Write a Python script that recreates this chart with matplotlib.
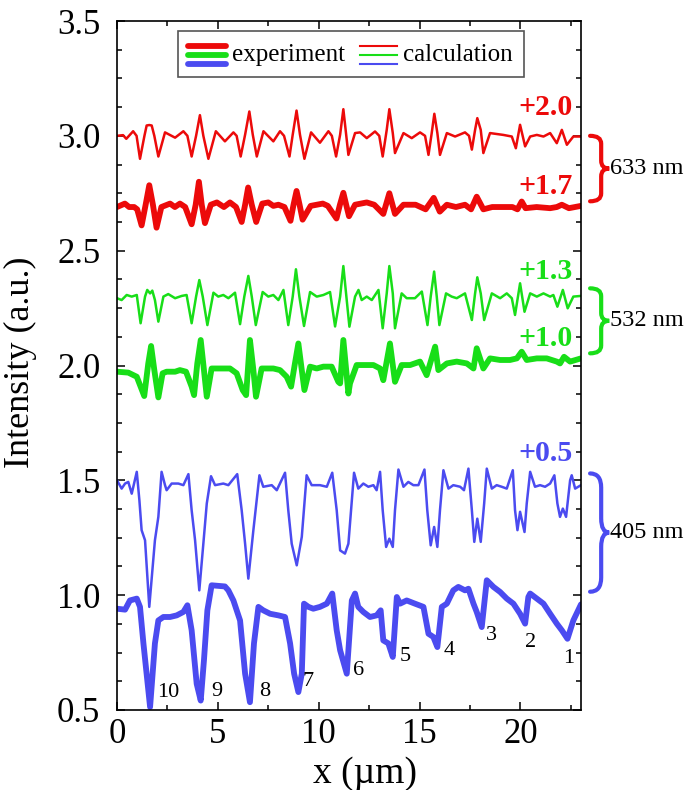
import matplotlib
matplotlib.use("Agg")
import matplotlib.pyplot as plt
from matplotlib.path import Path
from matplotlib.patches import PathPatch, Rectangle
from matplotlib.lines import Line2D
from matplotlib.ticker import MultipleLocator

plt.rcParams['font.family'] = ['Liberation Serif', 'DejaVu Serif']

# ---- data (x in um, intensity in a.u.) ----
red_calc_x = [0.0, 0.3, 0.46, 0.8, 0.97, 1.14, 1.36, 1.47, 1.6, 1.72, 1.85, 2.05, 2.38, 2.88, 3.29, 3.49,
              3.70, 3.92, 4.11, 4.28, 4.53, 4.9, 5.35, 5.77, 5.93, 6.13, 6.35, 6.56, 6.73, 6.93, 7.26,
              7.75, 8.08, 8.28, 8.55, 8.71, 8.9, 9.07, 9.29, 9.62, 10.06, 10.48, 10.65, 10.86, 11.06,
              11.22, 11.47, 11.8, 12.05, 12.38, 12.79, 13.0, 13.17, 13.37, 13.5, 13.67, 13.78, 14.2,
              14.61, 15.02, 15.27, 15.44, 15.6, 15.73, 15.88, 16.01, 16.35, 16.76, 17.25, 17.45, 17.59,
              17.75, 17.86, 18.03, 18.16, 18.49, 19.15, 19.57, 19.77, 19.98, 20.23, 20.48, 20.81, 21.14,
              21.47, 21.8, 22.05, 22.3, 22.62, 23.0]
red_calc_y = [3.0, 3.003, 2.987, 3.02, 3.0, 2.90, 3.0, 3.045, 3.047, 3.045, 3.0, 2.91, 3.015, 2.992, 3.02, 3.0,
              2.91, 3.0, 3.09, 3.0, 2.90, 3.02, 2.976, 3.015, 3.0, 2.91, 3.005, 3.106, 3.005, 2.91, 3.02,
              2.976, 3.02, 3.0, 2.91, 3.005, 3.11, 3.005, 2.90, 3.015, 2.97, 3.02, 3.0, 2.91, 3.005,
              3.116, 2.917, 3.012, 3.015, 2.99, 3.019, 3.0, 2.91, 3.026, 3.116, 3.012, 2.925, 3.012,
              2.99, 3.015, 3.0, 2.917, 3.012, 3.096, 3.012, 2.917, 3.012, 2.997, 3.015, 3.0, 2.94,
              3.026, 3.077, 3.026, 2.925, 3.012, 3.004, 2.997, 2.946, 3.048, 2.954, 2.997, 3.004, 2.997,
              3.012, 2.968, 3.026, 2.961, 2.997, 2.997]

red_exp_x = [0.0, 0.39, 0.6, 0.85, 1.0, 1.22, 1.42, 1.6, 1.78, 1.96, 2.2, 2.63, 2.87, 3.12, 3.38, 3.70,
             3.9, 4.06, 4.2, 4.36, 4.65, 4.95, 5.3, 5.6, 5.9, 6.18, 6.35, 6.5, 6.68, 6.9, 7.2, 7.5, 7.75,
             8.0, 8.3, 8.6, 8.75, 8.9, 9.05, 9.2, 9.6, 9.9, 10.2, 10.45, 10.88, 11.05, 11.22, 11.36,
             11.5, 11.8, 12.38, 12.75, 13.2, 13.5, 13.78, 14.2, 14.8, 15.3, 15.7, 16.0, 16.35, 16.8,
             17.25, 17.55, 17.83, 18.16, 18.6, 19.15, 19.6, 19.85, 20.06, 20.25, 20.8, 21.47, 21.8,
             22.05, 22.4, 23.0]
red_exp_y = [2.69, 2.705, 2.69, 2.69, 2.68, 2.61, 2.70, 2.785, 2.70, 2.60, 2.69, 2.705, 2.69, 2.705, 2.69,
             2.615, 2.70, 2.80, 2.70, 2.62, 2.70, 2.71, 2.69, 2.71, 2.69, 2.625, 2.70, 2.775, 2.70, 2.625,
             2.705, 2.71, 2.695, 2.70, 2.69, 2.63, 2.70, 2.76, 2.70, 2.635, 2.695, 2.70, 2.705, 2.695,
             2.64, 2.70, 2.752, 2.70, 2.65, 2.70, 2.71, 2.70, 2.66, 2.75, 2.66, 2.70, 2.70, 2.68, 2.73,
             2.67, 2.70, 2.69, 2.70, 2.68, 2.735, 2.68, 2.69, 2.69, 2.69, 2.68, 2.714, 2.685, 2.69,
             2.685, 2.69, 2.70, 2.685, 2.695]

green_calc_x = [0.0, 0.23, 0.48, 0.73, 0.98, 1.17, 1.39, 1.5, 1.64, 1.75, 1.88, 2.05, 2.3, 2.54, 2.88, 3.21,
                3.45, 3.7, 3.92, 4.08, 4.25, 4.48, 4.78, 5.02, 5.27, 5.52, 5.85, 6.1, 6.31, 6.51, 6.68,
                6.88, 7.22, 7.5, 7.75, 8.0, 8.25, 8.49, 8.71, 8.87, 9.04, 9.27, 9.57, 9.9, 10.23, 10.56,
                10.81, 11.06, 11.22, 11.37, 11.52, 11.8, 11.97, 12.13, 12.38, 12.63, 12.96, 13.17, 13.37,
                13.5, 13.67, 13.78, 14.11, 14.36, 14.77, 15.11, 15.39, 15.55, 15.72, 15.85, 15.98, 16.31,
                16.59, 16.84, 17.25, 17.59, 17.75, 17.86, 18.03, 18.2, 18.58, 18.99, 19.32, 19.57, 19.73,
                19.98, 20.2, 20.48, 20.81, 21.14, 21.47, 21.63, 21.83, 22.1, 22.34, 22.62, 23.0]
green_calc_y = [2.293, 2.285, 2.307, 2.30, 2.307, 2.184, 2.30, 2.329, 2.314, 2.326, 2.285, 2.191, 2.30, 2.311,
                2.293, 2.303, 2.307, 2.184, 2.30, 2.372, 2.30, 2.176, 2.317, 2.30, 2.307, 2.293, 2.317,
                2.18, 2.30, 2.39, 2.30, 2.176, 2.32, 2.30, 2.307, 2.285, 2.329, 2.176, 2.30, 2.419, 2.30,
                2.172, 2.32, 2.30, 2.307, 2.32, 2.17, 2.30, 2.433, 2.30, 2.169, 2.30, 2.329, 2.285, 2.30,
                2.285, 2.329, 2.162, 2.314, 2.433, 2.314, 2.162, 2.314, 2.293, 2.293, 2.322, 2.176, 2.30,
                2.409, 2.30, 2.176, 2.314, 2.30, 2.293, 2.314, 2.198, 2.314, 2.384, 2.314, 2.198, 2.314,
                2.293, 2.314, 2.293, 2.22, 2.358, 2.234, 2.314, 2.30, 2.314, 2.30, 2.307, 2.256, 2.329,
                2.249, 2.30, 2.303]

green_exp_x = [0.0, 0.56, 0.98, 1.17, 1.35, 1.55, 1.69, 1.85, 2.05, 2.26, 2.46, 2.88, 3.12, 3.42, 3.7, 3.82,
               3.98, 4.15, 4.31, 4.45, 4.69, 4.95, 5.27, 5.6, 5.93, 6.23, 6.4, 6.59, 6.76, 6.89, 7.17,
               7.42, 7.75, 8.08, 8.41, 8.63, 8.82, 8.99, 9.16, 9.29, 9.57, 9.9, 10.23, 10.64, 10.97, 11.06,
               11.22, 11.47, 11.55, 11.88, 12.21, 12.71, 13.04, 13.2, 13.53, 13.78, 14.11, 14.53, 15.02,
               15.35, 15.77, 15.93, 16.35, 16.84, 17.34, 17.67, 17.83, 18.16, 18.49, 18.99, 19.48, 19.82,
               20.06, 20.31, 20.81, 21.3, 21.8, 21.96, 22.16, 22.46, 23.0]
green_exp_y = [1.973, 1.969, 1.951, 1.908, 1.867, 2.009, 2.085, 1.98, 1.861, 1.966, 1.973, 1.973, 1.98, 1.973,
               1.908, 1.871, 2.009, 2.111, 1.98, 1.864, 1.987, 1.987, 1.987, 1.987, 1.966, 1.893, 1.871,
               2.111, 1.98, 1.864, 1.987, 1.987, 1.987, 1.98, 1.951, 1.908, 2.009, 2.096, 1.98, 1.893,
               1.995, 1.987, 1.995, 1.995, 1.929, 1.922, 2.111, 1.878, 1.922, 2.002, 2.002, 2.002, 1.987,
               1.936, 2.096, 1.929, 2.002, 2.002, 2.017, 1.958, 2.082, 1.98, 2.009, 2.017, 2.009, 1.987,
               2.075, 1.987, 2.031, 2.024, 2.024, 2.031, 2.06, 2.024, 2.031, 2.031, 2.017, 2.009, 2.038,
               2.017, 2.031]

blue_calc_x = [0.0, 0.23, 0.4, 0.56, 0.73, 0.98, 1.11, 1.22, 1.39, 1.6, 1.88, 2.05, 2.21, 2.38, 2.46, 2.71,
               3.04, 3.29, 3.54, 3.7, 3.87, 4.08, 4.28, 4.45, 4.66, 4.86, 5.27, 5.52, 5.96, 6.18, 6.35,
               6.51, 6.76, 7.06, 7.25, 7.67, 7.92, 8.33, 8.49, 8.66, 8.91, 9.16, 9.4, 9.65, 10.06, 10.4,
               10.67, 10.89, 11.06, 11.3, 11.47, 11.75, 11.96, 12.21, 12.46, 12.71, 12.87, 13.04, 13.17,
               13.34, 13.5, 13.67, 13.78, 13.95, 14.2, 14.44, 14.69, 14.94, 15.24, 15.38, 15.55, 15.72,
               15.88, 16.01, 16.18, 16.43, 16.67, 17.01, 17.2, 17.42, 17.59, 17.71, 17.86, 18.03, 18.2,
               18.33, 18.58, 18.82, 19.07, 19.32, 19.62, 19.73, 19.85, 19.98, 20.2, 20.31, 20.48, 20.72,
               20.97, 21.22, 21.47, 21.68, 21.83, 21.96, 22.1, 22.26, 22.46, 22.54, 22.71, 23.0]
blue_calc_y = [1.50, 1.464, 1.486, 1.493, 1.442, 1.537, 1.413, 1.283, 1.239, 0.949, 1.239, 1.341, 1.537,
               1.479, 1.457, 1.486, 1.486, 1.479, 1.527, 1.37, 1.239, 1.021, 1.224, 1.399, 1.518, 1.479,
               1.486, 1.479, 1.527, 1.37, 1.224, 1.072, 1.283, 1.522, 1.472, 1.479, 1.457, 1.533, 1.37,
               1.224, 1.13, 1.254, 1.522, 1.479, 1.479, 1.472, 1.533, 1.37, 1.195, 1.181, 1.224, 1.533,
               1.464, 1.486, 1.472, 1.479, 1.457, 1.537, 1.37, 1.21, 1.246, 1.21, 1.37, 1.547, 1.472,
               1.493, 1.479, 1.479, 1.547, 1.37, 1.217, 1.297, 1.21, 1.37, 1.544, 1.464, 1.479, 1.472,
               1.457, 1.551, 1.37, 1.232, 1.333, 1.232, 1.399, 1.551, 1.464, 1.479, 1.472, 1.464, 1.544,
               1.37, 1.283, 1.363, 1.275, 1.399, 1.537, 1.472, 1.479, 1.472, 1.486, 1.522, 1.399, 1.341,
               1.377, 1.341, 1.50, 1.522, 1.464, 1.479]

blue_exp_x = [0.0, 0.4, 0.64, 0.98, 1.14, 1.31, 1.64, 1.88, 2.05, 2.3, 2.63, 2.96, 3.29, 3.49, 3.7, 3.95,
              4.15, 4.31, 4.48, 4.69, 5.35, 5.52, 5.77, 6.1, 6.35, 6.59, 6.79, 7.01, 7.25, 7.59, 8.0, 8.33,
              8.58, 8.78, 8.99, 9.16, 9.27, 9.49, 9.73, 10.06, 10.4, 10.67, 10.89, 11.06, 11.39, 11.64,
              11.8, 11.96, 12.21, 12.54, 12.87, 13.07, 13.2, 13.45, 13.67, 13.87, 14.03, 14.36, 14.77,
              15.19, 15.44, 15.68, 15.88, 16.1, 16.35, 16.67, 16.92, 17.25, 17.42, 17.67, 17.83, 18.08,
              18.33, 18.66, 18.99, 19.32, 19.65, 19.98, 20.23, 20.39, 20.48, 20.81, 21.14, 21.47, 21.8,
              22.05, 22.33, 22.62, 23.0]
blue_exp_y = [0.941, 0.937, 0.977, 0.985, 0.949, 0.79, 0.513, 0.79, 0.89, 0.905, 0.905, 0.912, 0.927, 0.956,
              0.847, 0.614, 0.541, 0.716, 0.934, 1.043, 1.038, 1.021, 0.977, 0.89, 0.658, 0.534, 0.79,
              0.949, 0.934, 0.919, 0.912, 0.905, 0.79, 0.658, 0.578, 0.658, 0.963, 0.949, 0.941, 0.949,
              0.963, 1.007, 0.847, 0.76, 0.658, 0.977, 1.007, 0.949, 0.927, 0.905, 0.912, 0.934, 0.803,
              0.79, 0.731, 0.992, 0.963, 0.977, 0.963, 0.949, 0.832, 0.818, 0.774, 0.949, 0.963, 1.021,
              1.036, 1.021, 1.028, 0.963, 0.927, 0.861, 1.065, 1.036, 1.014, 0.985, 0.963, 0.919, 0.876,
              0.992, 1.007, 0.985, 0.963, 0.919, 0.876, 0.847, 0.81, 0.89, 0.96]

offsets = ['+2.0', '+1.7', '+1.3', '+1.0', '+0.5']
offset_y = [3.124, 2.78, 2.409, 2.118, 1.617]
wavelengths = ['633 nm', '532 nm', '405 nm']
brace_top = [3.0, 2.336, 1.53]
brace_bot = [2.715, 2.053, 1.015]

dip_labels = ['10', '9', '8', '7', '6', '5', '4', '3', '2', '1']
dip_x = [2.54, 4.94, 7.34, 9.48, 11.96, 14.28, 16.47, 18.54, 20.48, 22.38]
dip_y = [0.578, 0.579, 0.579, 0.623, 0.672, 0.732, 0.759, 0.825, 0.793, 0.723]

RED = '#EC0A0A'
GREEN = '#18DE18'
BLUE = '#4B4BF0'

fig = plt.figure(figsize=(6.85, 7.9), dpi=100)
ax = fig.add_axes([117/685, 80/790, 464/685, 689/790])

thin = 1.8
thick = 4.2
style = dict(solid_joinstyle='round', solid_capstyle='round')
ax.plot(red_calc_x, red_calc_y, color=RED, lw=thin, **style)
ax.plot(red_exp_x, red_exp_y, color=RED, lw=thick, **style)
ax.plot(green_calc_x, green_calc_y, color=GREEN, lw=thin, **style)
ax.plot(green_exp_x, green_exp_y, color=GREEN, lw=thick, **style)
ax.plot(blue_calc_x, blue_calc_y, color=BLUE, lw=thin, **style)
ax.plot(blue_exp_x, blue_exp_y, color=BLUE, lw=thick, **style)

ax.set_xlim(0, 23)
ax.set_ylim(0.5, 3.5)
ax.xaxis.set_major_locator(MultipleLocator(5))
ax.xaxis.set_minor_locator(MultipleLocator(2.5))
ax.yaxis.set_major_locator(MultipleLocator(0.5))
ax.yaxis.set_minor_locator(MultipleLocator(0.125))
ax.yaxis.set_major_formatter(plt.FormatStrFormatter('%.1f'))
ax.tick_params(which='both', direction='in', top=True, right=True, width=1.1)
ax.tick_params(which='major', length=6, labelsize=25)
ax.tick_params(which='minor', length=3.5)
ax.tick_params(axis='y', which='major', pad=12)
ax.tick_params(axis='x', which='major', pad=6)
for s in ax.spines.values():
    s.set_linewidth(1.2)

ax.set_xlabel('x (µm)', fontsize=27)
ax.set_ylabel('Intensity (a.u.)', fontsize=26)
ax.xaxis.set_label_coords(0.534, -0.068)
ax.yaxis.set_label_coords(-0.172, 0.505)

# offsets
off_cols = [RED, RED, GREEN, GREEN, BLUE]
for t, y, c in zip(offsets, offset_y, off_cols):
    ax.text(22.6, y, t, color=c, fontsize=21.5, fontweight='bold', ha='right', va='center')

# numbered dips
for t, x, y in zip(dip_labels, dip_x, dip_y):
    ax.text(x, y, t, fontsize=16, ha='center', va='center')

# braces outside the right spine
def brace(y0, y1, color):
    xa, xb, xt = 23.45, 24.0, 24.4
    ym = (y0 + y1) / 2
    h = (y0 - y1) * 0.12
    verts = [(xa, y0), (xb, y0), (xb, y0 - h), (xb, ym + h), (xb, ym), (xt, ym),
             (xb, ym), (xb, ym - h), (xb, y1 + h), (xb, y1), (xa, y1)]
    codes = [Path.MOVETO, Path.CURVE3, Path.CURVE3, Path.LINETO, Path.CURVE3, Path.CURVE3,
             Path.CURVE3, Path.CURVE3, Path.LINETO, Path.CURVE3, Path.CURVE3]
    ax.add_patch(PathPatch(Path(verts, codes), fill=False, edgecolor=color, lw=3,
                           capstyle='round', clip_on=False))

for t, y0, y1, c in zip(wavelengths, brace_top, brace_bot, [RED, GREEN, BLUE]):
    brace(y0, y1, c)
    ax.text(24.45, (y0 + y1) / 2, t, fontsize=17.5, ha='left', va='center', clip_on=False)

# legend drawn by hand: three stacked colours per entry
ax.add_patch(Rectangle((0.131, 0.919), 0.746, 0.066, transform=ax.transAxes, fill=False,
                       edgecolor='#555555', lw=1.2, zorder=5))
for i, c in enumerate([RED, GREEN, BLUE]):
    yy = 0.964 - i * 0.0135
    ax.add_line(Line2D([0.152, 0.235], [yy, yy], transform=ax.transAxes, color=c, lw=4.2,
                       solid_capstyle='round', zorder=6))
    ax.add_line(Line2D([0.524, 0.603], [yy, yy], transform=ax.transAxes, color=c, lw=1.5, zorder=6))
ax.text(0.247, 0.951, 'experiment', transform=ax.transAxes, fontsize=18, va='center', zorder=6)
ax.text(0.617, 0.951, 'calculation', transform=ax.transAxes, fontsize=18, va='center', zorder=6)

fig.savefig('out.png', dpi=100)
